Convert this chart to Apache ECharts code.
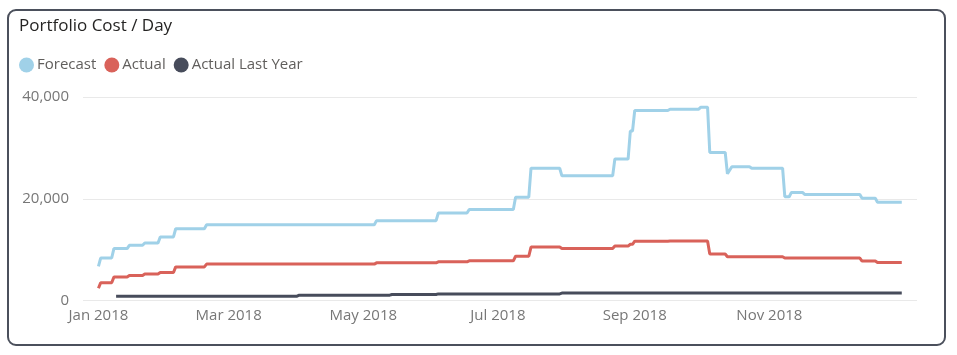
<!DOCTYPE html>
<html>
<head>
<meta charset="utf-8">
<script src="https://cdn.jsdelivr.net/npm/echarts@6/dist/echarts.min.js"></script>
<style>
html,body{margin:0;padding:0;background:#fff;}
#chart{width:957px;height:355px;}
</style>
</head>
<body>
<div id="chart"></div>
<script>
// ---- Data (values in thousands) ----
const seriesNames = ['Forecast', 'Actual', 'Actual Last Year'];

const forecastFrom = ['2018-01-01','2018-01-02','2018-01-08','2018-01-15','2018-01-22','2018-01-29','2018-02-05','2018-02-19','2018-05-07','2018-06-04','2018-06-18','2018-07-09','2018-07-16','2018-07-30','2018-08-23','2018-08-30','2018-09-01','2018-09-17','2018-10-01','2018-10-05','2018-10-13','2018-10-15','2018-10-24','2018-11-08','2018-11-11','2018-11-17','2018-12-13','2018-12-20'];
const forecastTo   = ['2018-01-01','2018-01-07','2018-01-14','2018-01-21','2018-01-28','2018-02-04','2018-02-18','2018-05-06','2018-06-03','2018-06-17','2018-07-08','2018-07-15','2018-07-29','2018-08-22','2018-08-29','2018-08-31','2018-09-16','2018-09-30','2018-10-04','2018-10-12','2018-10-13','2018-10-23','2018-11-07','2018-11-10','2018-11-16','2018-12-12','2018-12-19','2018-12-31'];
const forecastValue = [6.7, 8.35, 10.2, 10.85, 11.3, 12.5, 14.1, 14.9, 15.7, 17.2, 17.9, 20.3, 26.0, 24.5, 27.8, 33.3, 37.35, 37.6, 38.0, 29.1, 24.9, 26.3, 26.0, 20.4, 21.25, 20.85, 20.1, 19.3];

const actualFrom = ['2018-01-01','2018-01-02','2018-01-08','2018-01-15','2018-01-22','2018-01-29','2018-02-05','2018-02-19','2018-05-07','2018-06-04','2018-06-18','2018-07-09','2018-07-16','2018-07-30','2018-08-23','2018-08-30','2018-09-01','2018-09-17','2018-10-05','2018-10-13','2018-11-08','2018-12-13','2018-12-20'];
const actualTo   = ['2018-01-01','2018-01-07','2018-01-14','2018-01-21','2018-01-28','2018-02-04','2018-02-18','2018-05-06','2018-06-03','2018-06-17','2018-07-08','2018-07-15','2018-07-29','2018-08-22','2018-08-29','2018-08-31','2018-09-16','2018-10-04','2018-10-12','2018-11-07','2018-12-12','2018-12-19','2018-12-31'];
const actualValue = [2.4, 3.5, 4.6, 4.9, 5.2, 5.5, 6.6, 7.15, 7.4, 7.6, 7.8, 8.7, 10.5, 10.2, 10.7, 11.05, 11.65, 11.7, 9.15, 8.6, 8.35, 7.75, 7.45];

const lastYearFrom = ['2018-01-09','2018-04-02','2018-05-14','2018-06-04','2018-07-30'];
const lastYearTo   = ['2018-04-01','2018-05-13','2018-06-03','2018-07-29','2018-12-31'];
const lastYearValue = [0.85, 1.05, 1.18, 1.3, 1.45];

const xTickDates  = ['2018-01-01','2018-03-01','2018-05-01','2018-07-01','2018-09-01','2018-11-01'];
const xTickLabels = ['Jan 2018','Mar 2018','May 2018','Jul 2018','Sep 2018','Nov 2018'];
const yTickValues = [0, 20000, 40000];
const xMinDate = '2017-12-25';
const xSpanDays = 377.9;

// ---- helpers ----
function ts(s){ const p = s.split('-'); return Date.UTC(+p[0], +p[1]-1, +p[2]); }
function plateaus(from, to, val){
  const out = [];
  for (let i = 0; i < from.length; i++){
    out.push([ts(from[i]), val[i]*1000]);
    if (to[i] !== from[i]) out.push([ts(to[i]), val[i]*1000]);
  }
  return out;
}
const tickTs = xTickDates.map(ts);

const FONT = '"Segoe UI", "Open Sans", sans-serif';
const colors = ['#A0D1E8', '#D9625A', '#474C5B'];

const chart = echarts.init(document.getElementById('chart'), null, {renderer:'canvas'});
const option = {
  animation: false,
  color: colors,
  title: {
    text: 'Portfolio Cost / Day',
    left: 14, top: 13,
    textStyle: {fontFamily: FONT, fontSize: 17, fontWeight: 'normal', color: '#252423'}
  },
  legend: {
    data: seriesNames,
    left: 14, top: 52.5,
    icon: 'circle',
    itemWidth: 15, itemHeight: 15,
    itemGap: 8,
    textStyle: {fontFamily: FONT, fontSize: 15, color: '#605E5C', padding:[0,0,0,-2]}
  },
  grid: {left: 83, right: 40, top: 97, bottom: 54.5, containLabel: false},
  xAxis: {
    type: 'value',
    min: ts(xMinDate),
    max: ts(xMinDate) + xSpanDays*86400000,
    axisLine: {show: false},
    axisTick: {show: false},
    splitLine: {show: false},
    axisLabel: {
      customValues: tickTs,
      margin: 8,
      fontFamily: FONT, fontSize: 15, color: '#777777',
      formatter: function(v){ const i = tickTs.indexOf(v); return i >= 0 ? xTickLabels[i] : ''; }
    }
  },
  yAxis: {
    type: 'value',
    min: 0, max: 40000, interval: 20000,
    axisLine: {show: false},
    axisTick: {show: false},
    splitLine: {lineStyle: {color: '#E9E9E9', width: 1}},
    axisLabel: {
      margin: 14,
      fontFamily: FONT, fontSize: 15, color: '#777777',
      formatter: function(v){ return v.toLocaleString('en-US'); }
    }
  },
  series: [
    {name: seriesNames[0], type: 'line', showSymbol: false, symbol: 'none', data: plateaus(forecastFrom, forecastTo, forecastValue), lineStyle: {width: 3}, emphasis:{disabled:true}},
    {name: seriesNames[1], type: 'line', showSymbol: false, symbol: 'none', data: plateaus(actualFrom, actualTo, actualValue), lineStyle: {width: 3}, emphasis:{disabled:true}},
    {name: seriesNames[2], type: 'line', showSymbol: false, symbol: 'none', data: plateaus(lastYearFrom, lastYearTo, lastYearValue), lineStyle: {width: 3}, emphasis:{disabled:true}}
  ],
  graphic: [{
    type: 'rect', silent: true, z: -1,
    shape: {x: 8, y: 10, width: 937, height: 335, r: 8},
    style: {fill: 'none', stroke: '#4B505C', lineWidth: 2}
  }]
};
chart.setOption(option);
</script>
</body>
</html>
